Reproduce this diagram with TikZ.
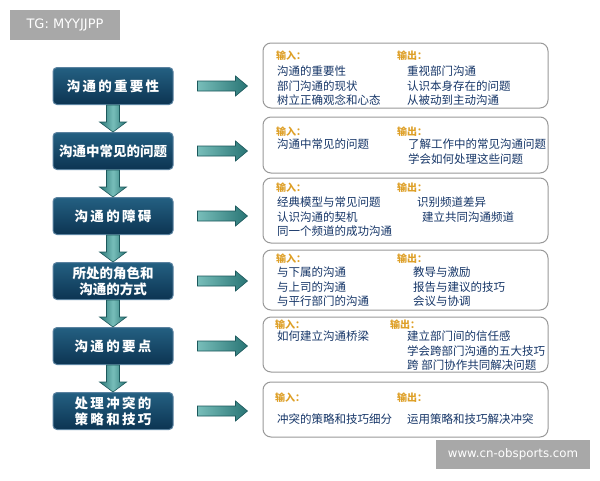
\documentclass[tikz,border=0pt]{standalone}
\usepackage{fontspec}
\newfontfamily\cjk{Noto Sans CJK SC}
\newfontfamily\cjkwide{Noto Sans CJK SC}[LetterSpace=17]
\newfontfamily\wmfont{DejaVu Sans}
\usetikzlibrary{positioning,calc}
\definecolor{stagetop}{RGB}{36,96,130}
\definecolor{stagebot}{RGB}{12,52,82}
\definecolor{stageline}{RGB}{90,130,160}
\definecolor{teallt}{RGB}{120,190,186}
\definecolor{tealdk}{RGB}{40,116,116}
\definecolor{tealline}{RGB}{28,88,92}
\definecolor{labgold}{RGB}{222,160,40}
\definecolor{txtblue}{RGB}{22,54,104}
\definecolor{wmgray}{RGB}{168,168,168}

\begin{document}
\begin{tikzpicture}[x=1pt,y=-1pt,
stage/.style={rectangle,rounded corners=4pt,draw=stageline,line width=1pt,top color=stagetop,bottom color=stagebot,
  minimum width=120pt,minimum height=37pt,inner sep=2pt,align=center,text=white,font=\cjk\bfseries\fontsize{13.5}{16}\selectfont},
widestage/.style={stage,font=\cjkwide\bfseries\fontsize{13.5}{16}\selectfont},
outbox/.style={rectangle,rounded corners=8pt,draw=gray!80,line width=1pt,fill=white,minimum width=285pt},
dnarr/.style={draw=tealline,line width=0.6pt,left color=tealdk,right color=tealdk,middle color=teallt},
rtarr/.style={draw=tealline,line width=0.6pt,left color=teallt,right color=tealdk},
lab/.style={anchor=west,inner sep=0pt,text=labgold,font=\cjk\bfseries\fontsize{10}{12}\selectfont},
txt/.style={anchor=north west,inner sep=0pt,align=left,text=txtblue,font=\cjk\fontsize{11.5}{14.5}\selectfont},
wm/.style={rectangle,fill=wmgray,text=white,inner sep=0pt}]

\useasboundingbox (0,0) rectangle (600,480);
\fill[white] (0,0) rectangle (600,480);

\node[widestage] (imp) at (113,86) {沟通的重要性};
\node[stage, below=27pt of imp] (prob) {沟通中常见的问题};
\node[widestage, below=27pt of prob] (barr) {沟通的障碍};
\node[stage, below=27pt of barr] (role) {所处的角色和\\沟通的方式};
\node[widestage, below=27pt of role] (key) {沟通的要点};
\node[widestage, below=27pt of key] (conf) {处理冲突的\\策略和技巧};

\foreach \a/\b in {imp/prob,prob/barr,barr/role,role/key,key/conf}
  \shade[dnarr] ($(\a.south)+(-6.5,0)$) -- ($(\a.south)+(6.5,0)$) -- ($(\b.north)+(6.5,-10)$) -- ($(\b.north)+(13.5,-10)$)
    -- (\b.north) -- ($(\b.north)+(-13.5,-10)$) -- ($(\b.north)+(-6.5,-10)$) -- cycle;

\node[outbox, minimum height=65pt] (o1) at (405.5,75.5) {};
\node[outbox, minimum height=56pt] (o2) at (405.5,145) {};
\node[outbox, minimum height=65pt] (o3) at (405.5,210.5) {};
\node[outbox, minimum height=60pt] (o4) at (405.5,280) {};
\node[outbox, minimum height=55pt] (o5) at (405.5,344.5) {};
\node[outbox, minimum height=55pt] (o6) at (405.5,409.5) {};

\foreach \a/\b in {imp/o1,prob/o2,barr/o3,role/o4,key/o5,conf/o6}
  \shade[rtarr] ($(\a.east)+(24,-5)$) -- ($(\a.east -| \b.west)+(-27,-5)$) -- ($(\a.east -| \b.west)+(-27,-10)$)
    -- ($(\a.east -| \b.west)+(-15,0)$) -- ($(\a.east -| \b.west)+(-27,10)$) -- ($(\a.east -| \b.west)+(-27,5)$)
    -- ($(\a.east)+(24,5)$) -- cycle;

\node[lab] (i1) at (276,56) {输入：};
\node[lab] (u1) at (397,56) {输出：};
\node[txt] at (277,66) {沟通的重要性\\部门沟通的现状\\树立正确观念和心态};
\node[txt] at (407,66) {重视部门沟通\\认识本身存在的问题\\从被动到主动沟通};

\node[lab] (i2) at (276,132) {输入：};
\node[lab] (u2) at (397,132) {输出：};
\node[txt] at (277,139) {沟通中常见的问题};
\node[txt] at (408,139) {了解工作中的常见沟通问题\\学会如何处理这些问题};

\node[lab] (i3) at (276,188) {输入：};
\node[lab] (u3) at (397,188) {输出：};
\node[txt] at (277,197) {经典模型与常见问题\\认识沟通的契机\\同一个频道的成功沟通};
\node[txt] at (417,197) {识别频道差异};
\node[txt] at (422,212) {建立共同沟通频道};

\node[lab] (i4) at (276,259) {输入：};
\node[lab] (u4) at (397,259) {输出：};
\node[txt] at (277,267) {与下属的沟通\\与上司的沟通\\与平行部门的沟通};
\node[txt] at (413,267) {教导与激励\\报告与建议的技巧\\会议与协调};

\node[lab] (i5) at (275,325) {输入：};
\node[lab] (u5) at (390,325) {输出：};
\node[txt] at (277,331) {如何建立沟通桥梁};
\node[txt] at (407,331) {建立部门间的信任感\\学会跨部门沟通的五大技巧\\跨 部门协作共同解决问题};

\node[lab] (i6) at (275,398) {输入：};
\node[lab] (u6) at (397,398) {输出：};
\node[txt] at (277,414) {冲突的策略和技巧细分};
\node[txt] at (407,414) {运用策略和技巧解决冲突};

\node[wm, minimum width=110pt, minimum height=30pt, font=\wmfont\fontsize{13}{15}\selectfont] (tg) at (65,25) {TG: MYYJJPP};
\node[wm, minimum width=154pt, minimum height=29pt, font=\wmfont\fontsize{11.8}{14}\selectfont] (site) at (513,454.5) {www.cn-obsports.com};
\end{tikzpicture}
\end{document}
